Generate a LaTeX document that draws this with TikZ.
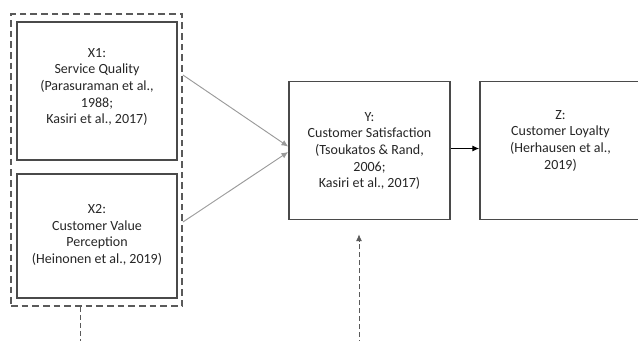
\documentclass[tikz,border=0pt]{standalone}
\usepackage{fontspec}
\setmainfont{Carlito}
\usetikzlibrary{arrows.meta,calc}
\definecolor{boxc}{HTML}{4A4A4A}
\definecolor{linec}{HTML}{9A9A9A}
\definecolor{dashc}{HTML}{5A5A5A}
\begin{document}
\begin{tikzpicture}[x=0.75pt,y=-0.75pt,
  box/.style={draw=boxc,line width=1.3pt,rectangle,inner sep=0pt},
  lbl/.style={align=center,font=\fontsize{10.5}{12.5}\selectfont,inner sep=0pt,text=black!85},
  grpbox/.style={draw=dashc,line width=1.4pt,dash pattern=on 5pt off 3pt,rectangle,inner sep=0pt},
  thindash/.style={draw=dashc,line width=0.6pt,dash pattern=on 3.5pt off 2.5pt},
  tip/.style={-{Latex[length=5pt,width=4.5pt]}}]
\useasboundingbox (0,0) rectangle (638,340);
\clip (0,0) rectangle (638,340);
\node[grpbox,minimum width=128.25pt,minimum height=219pt] (grp) at (96.5,160) {};
\node[box,minimum width=120pt,minimum height=103.5pt] (x1) at (97,91) {};
\node[box,minimum width=120pt,minimum height=93pt] (x2) at (97,236) {};
\node[box,minimum width=120.75pt,minimum height=103.5pt] (y) at (369.5,150.5) {};
\node[box,minimum width=120.75pt,minimum height=103.5pt] (z) at (560.5,150.5) {};
\node[lbl] (tx1) at (97,87) {X1:\\Service Quality\\(Parasuraman et al.,\\1988;\\Kasiri et al., 2017)};
\node[lbl] (tx2) at (97,235) {X2:\\Customer Value\\Perception\\(Heinonen et al., 2019)};
\node[lbl] (ty) at (369.5,151) {Y:\\Customer Satisfaction\\(Tsoukatos \& Rand,\\2006;\\Kasiri et al., 2017)};
\node[lbl,anchor=north] (tz) at (560.5,110) {Z:\\Customer Loyalty\\(Herhausen et al.,\\2019)};
\draw[linec,line width=0.7pt,tip] ($(x1.east -| grp.east)+(0,-16)$) -- ($(y.west)+(0,-4)$);
\draw[linec,line width=0.7pt,tip] ($(x2.east -| grp.east)+(0,-14)$) -- ($(y.west)+(0,1.5)$);
\draw[black,line width=0.7pt,tip] ($(y.east)+(0,-2)$) -- ($(z.west)+(0,-2)$);
\coordinate (b1) at (80,345);
\coordinate (b2) at (359,345);
\draw[thindash] ($(grp.south)+(-16.5,0)$) -- (b1);
\draw[thindash,tip] (b2) -- ($(y.south)+(-10.5,14)$);
\end{tikzpicture}
\end{document}
